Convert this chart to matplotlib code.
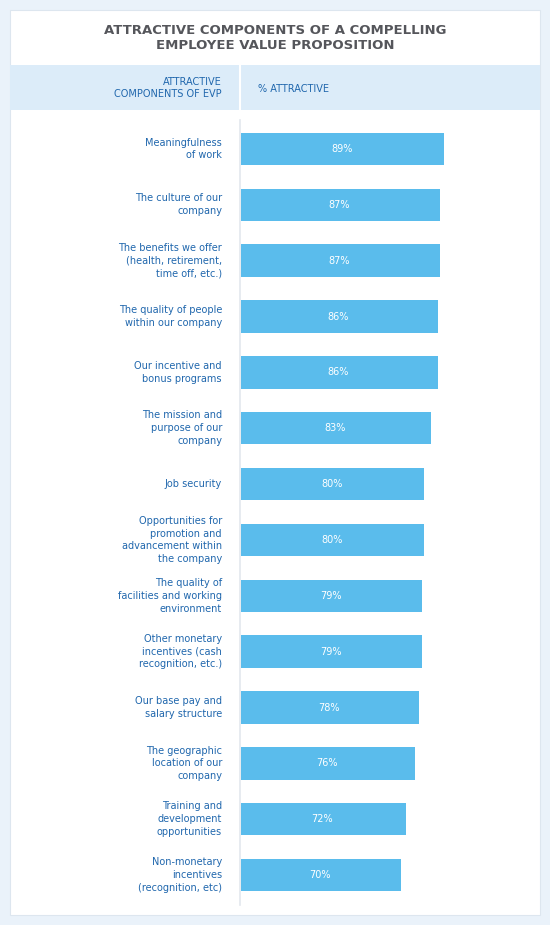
import matplotlib.pyplot as plt
import matplotlib.transforms as mtransforms
from matplotlib.patches import Rectangle

components = [
    "Meaningfulness\nof work",
    "The culture of our\ncompany",
    "The benefits we offer\n(health, retirement,\ntime off, etc.)",
    "The quality of people\nwithin our company",
    "Our incentive and\nbonus programs",
    "The mission and\npurpose of our\ncompany",
    "Job security",
    "Opportunities for\npromotion and\nadvancement within\nthe company",
    "The quality of\nfacilities and working\nenvironment",
    "Other monetary\nincentives (cash\nrecognition, etc.)",
    "Our base pay and\nsalary structure",
    "The geographic\nlocation of our\ncompany",
    "Training and\ndevelopment\nopportunities",
    "Non-monetary\nincentives\n(recognition, etc)",
]
pct = [89, 87, 87, 86, 86, 83, 80, 80, 79, 79, 78, 76, 72, 70]

W, H = 550, 925
fig = plt.figure(figsize=(W / 100, H / 100), dpi=100)
fig.patch.set_facecolor('#eaf2fa')

def px(x, y, w, h):
    return [x / W, 1 - (y + h) / H, w / W, h / H]

# white card and header band (behind the axes)
fig.add_artist(Rectangle((10 / W, 1 - 915 / H), 530 / W, 905 / H, transform=fig.transFigure,
                         facecolor='white', edgecolor='#dde6ef', lw=0.8, zorder=-3))
fig.add_artist(Rectangle((10 / W, 1 - 110 / H), 530 / W, 45 / H, transform=fig.transFigure,
                         facecolor='#dcecf9', edgecolor='none', zorder=-2))
fig.add_artist(plt.Line2D([240 / W, 240 / W], [1 - 65 / H, 1 - 110 / H], transform=fig.transFigure,
                          color='white', lw=1.5, zorder=-1))
fig.add_artist(plt.Line2D([240 / W, 240 / W], [1 - 120 / H, 1 - 905 / H], transform=fig.transFigure,
                          color='#e3e8ee', lw=1.2, zorder=-1))

fig.text(275 / W, 1 - 38 / H, "ATTRACTIVE COMPONENTS OF A COMPELLING\nEMPLOYEE VALUE PROPOSITION",
         ha='center', va='center', fontsize=9.5, fontweight='bold', color='#55565b', linespacing=1.2)
fig.text(222 / W, 1 - 88 / H, "ATTRACTIVE\nCOMPONENTS OF EVP", ha='right', va='center',
         fontsize=7, color='#2067ad', linespacing=1.3)
fig.text(258 / W, 1 - 89 / H, "% ATTRACTIVE", ha='left', va='center',
         fontsize=7, color='#2067ad')

ax = fig.add_axes(px(240, 121, 300, 782))
ax.patch.set_alpha(0)
ax.set_xlim(0, 300 / 2.29)
ax.set_ylim(len(pct) - 0.5, -0.5)
ax.axis('off')
ys = range(len(pct))
ax.barh(ys, pct, height=0.58, color='#5abcec', left=0.3)
trans = mtransforms.blended_transform_factory(fig.transFigure, ax.transData)
for i, (c, v) in enumerate(zip(components, pct)):
    ax.text(v / 2, i, f"{v}%", ha='center', va='center', color='white', fontsize=7)
    ax.text(222 / W, i, c, transform=trans, ha='right', va='center', fontsize=7,
            color='#2067ad', linespacing=1.35, fontweight='medium')

fig.savefig('out.png', dpi=100, facecolor=fig.get_facecolor())
